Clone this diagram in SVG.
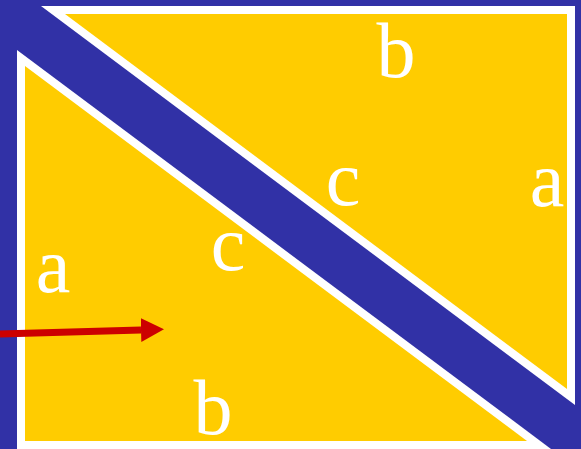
<svg xmlns="http://www.w3.org/2000/svg" width="581" height="449" viewBox="0 0 581 449">
<defs>
<style>
.bg{fill:#3131a6}
.rim{fill:#ffffff}
.face{fill:#ffcc00}
.lbl{font-family:"Liberation Serif","Times New Roman",serif;font-size:78px;fill:#ffffff;text-anchor:middle}
.arr{stroke:#cc0000;stroke-width:7;fill:none}
</style>
<marker id="ah" markerUnits="userSpaceOnUse" markerWidth="24" markerHeight="26" refX="0" refY="12" orient="auto" viewBox="0 0 24 24">
<path d="M0,0 L23,12 L0,24 Z" fill="#cc0000"/>
</marker>
</defs>
<rect class="bg" x="0" y="0" width="581" height="449"/>
<g id="triangle-upper">
<polygon class="rim" points="41,6 575,6 575,405"/>
<polygon class="face" points="65,14 567,14 567,389"/>
</g>
<g id="triangle-lower">
<polygon class="rim" points="17,50 17,449 551,449"/>
<polygon class="face" points="25,66 25,441 527,441"/>
</g>
<g id="labels">
<text class="lbl" x="396" y="77">b</text>
<text class="lbl" x="547" y="206">a</text>
<text class="lbl" x="343" y="205">c</text>
<text class="lbl" x="228" y="270">c</text>
<text class="lbl" x="53" y="292">a</text>
<text class="lbl" x="213" y="434">b</text>
</g>
<g id="connectors">
<line class="arr" x1="0" y1="334" x2="141" y2="330" marker-end="url(#ah)"/>
</g>
</svg>
